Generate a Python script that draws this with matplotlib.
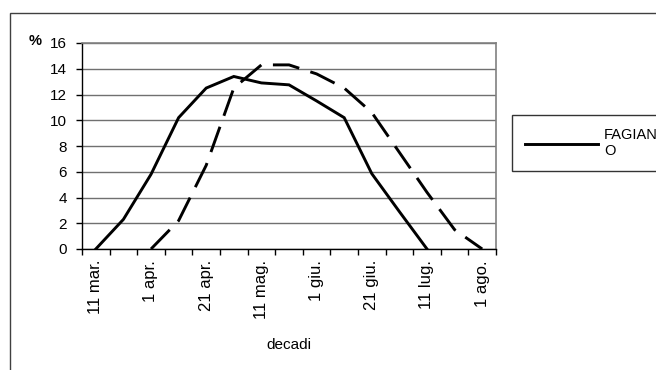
import numpy as np
import matplotlib
matplotlib.use("Agg")
import matplotlib.pyplot as plt
from matplotlib.patches import Rectangle

plt.rcParams['font.family'] = ['Liberation Sans', 'DejaVu Sans']

# Ten-day periods (decadi), March to August
decadi = ["11 mar.", "21 mar.", "1 apr.", "11 apr.", "21 apr.", "1 mag.",
          "11 mag.", "21 mag.", "1 giu.", "11 giu.", "21 giu.", "1 lug.",
          "11 lug.", "21 lug.", "1 ago."]

# Percentages per period
fagiano = [0, 2.3, 5.8, 10.2, 12.5, 13.4, 12.9, 12.75, 11.5, 10.2, 5.85, 2.9,
           0, np.nan, np.nan]
serie_tratteggiata = [np.nan, np.nan, 0, 2.2, 6.5, 12.5, 14.3, 14.3, 13.6,
                      12.5, 10.6, 7.5, 4.4, 1.5, 0]

y_ticks = [0, 2, 4, 6, 8, 10, 12, 14, 16]

W, H = 656, 370
fig = plt.figure(figsize=(W / 100, H / 100), dpi=100)

# outer chart frame (only top and left edges fall inside the image)
fig.patches.append(Rectangle((9.5 / W, -0.2), 1.5, 1.2 - 12.5 / H,
                             transform=fig.transFigure, fill=False,
                             ec='#404040', lw=1.0))

ax = fig.add_axes([82 / W, 1 - 249 / H, (496 - 82) / W, (249 - 43) / H])

x = np.arange(len(decadi))
ax.plot(x, fagiano, color='black', lw=2.1, solid_joinstyle='miter',
        label="FAGIAN\nO", zorder=3)
ax.plot(x, serie_tratteggiata, color='black', lw=2.1,
        linestyle=(0, (9.2, 4.0)), zorder=3)

ax.set_xlim(-0.5, len(decadi) - 0.5)
ax.set_ylim(0, 16)
ax.set_yticks(y_ticks)
ax.set_yticklabels([str(v) for v in y_ticks], fontsize=11)
ax.tick_params(axis='y', direction='out', length=4, width=1, pad=7,
               colors='black')

# category boundaries carry the tick marks, labels sit at every other category
ax.set_xticks(np.arange(-0.5, len(decadi), 1.0))
ax.set_xticklabels([])
ax.tick_params(axis='x', which='major', direction='out', length=4, width=1)
ax.set_xticks(x[::2], minor=True)
ax.set_xticklabels(decadi[::2], minor=True, rotation=90, fontsize=12)
ax.tick_params(axis='x', which='minor', length=0, pad=8)

ax.grid(axis='y', color='#707070', lw=1.0)
ax.set_axisbelow(True)
for s in ['top', 'right']:
    ax.spines[s].set_color('#808080')
    ax.spines[s].set_linewidth(1.2)
for s in ['left', 'bottom']:
    ax.spines[s].set_color('black')
    ax.spines[s].set_linewidth(1.0)

fig.text(35 / W, 1 - 41 / H, "%", fontsize=10.5, fontweight='bold',
         ha='center', va='center')
fig.text(289 / W, 1 - 345 / H, "decadi", fontsize=11, ha='center',
         va='center')

leg = fig.legend(loc='upper left', bbox_to_anchor=(511.5 / W, 1 - 115 / H),
                 fontsize=10.5, frameon=True, fancybox=False,
                 handlelength=5.0, handletextpad=0.45, borderpad=0.9,
                 borderaxespad=0, labelspacing=0.2)
leg.get_frame().set_edgecolor('black')
leg.get_frame().set_linewidth(1.0)

fig.savefig("out.png", dpi=100)
